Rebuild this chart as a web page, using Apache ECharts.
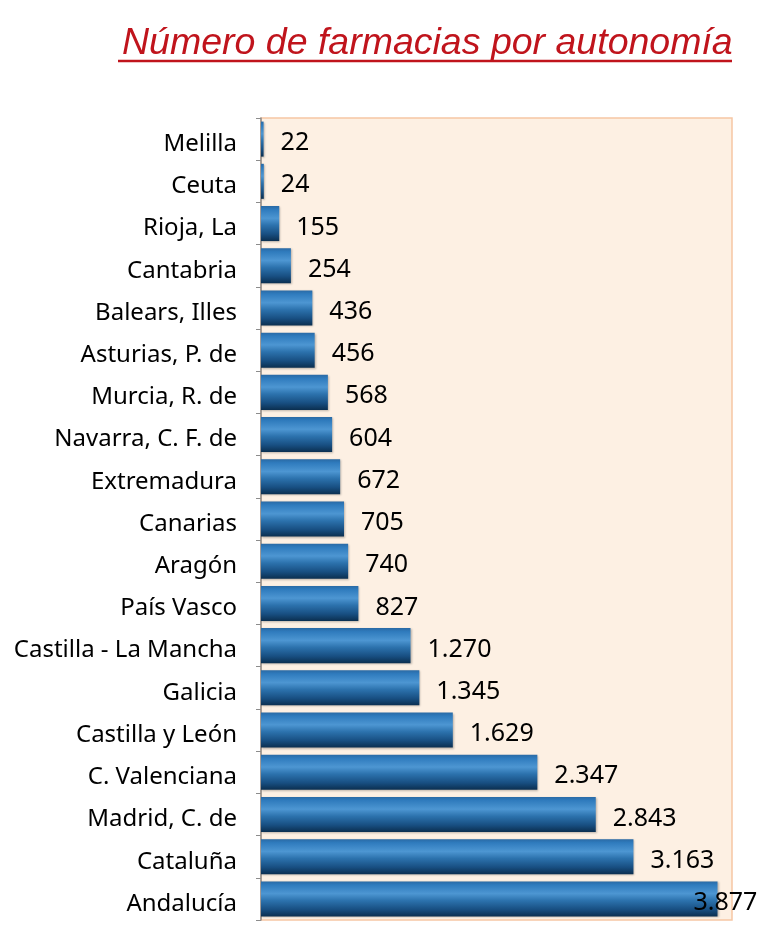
<!DOCTYPE html>
<html>
<head>
<meta charset="utf-8">
<title>Número de farmacias por autonomía</title>
<script src="https://cdn.jsdelivr.net/npm/echarts@6/dist/echarts.min.js"></script>
<style>
  html, body { margin: 0; padding: 0; background: #fff; }
  #chart { width: 780px; height: 938px; }
</style>
</head>
<body>
<div id="chart"></div>
<script>
// datos
var regiones = ['Melilla', 'Ceuta', 'Rioja, La', 'Cantabria', 'Balears, Illes',
    'Asturias, P. de', 'Murcia, R. de', 'Navarra, C. F. de', 'Extremadura', 'Canarias',
    'Aragón', 'País Vasco', 'Castilla - La Mancha', 'Galicia', 'Castilla y León',
    'C. Valenciana', 'Madrid, C. de', 'Cataluña', 'Andalucía'];
var farmacias = [22, 24, 155, 254, 436, 456, 568, 604, 672, 705,
    740, 827, 1270, 1345, 1629, 2347, 2843, 3163, 3877];

// separador de miles con punto
function fmt(v) {
    return String(v).replace(/\B(?=(\d{3})+(?!\d))/g, '.');
}

var dom = document.getElementById('chart');
var myChart = echarts.init(dom);

var barColor = new echarts.graphic.LinearGradient(0, 0, 0, 1, [
    { offset: 0, color: '#2a6aa5' },
    { offset: 0.1, color: '#2f7bbd' },
    { offset: 0.35, color: '#4d96d2' },
    { offset: 0.55, color: '#2c72ad' },
    { offset: 0.8, color: '#184f82' },
    { offset: 1, color: '#0b2f50' }
]);

var datos = farmacias.map(function(v, i) {
    var item = { value: v };
    // la última etiqueta queda encima del final de la barra
    if (i === farmacias.length - 1) {
        item.label = { offset: [-41, 4] };
    }
    return item;
});

var option = {
    animation: false,
    title: {
        text: 'Número de farmacias por autonomía',
        left: 117,
        top: 20,
        textStyle: {
            fontFamily: 'Liberation Sans',
            fontStyle: 'italic',
            fontWeight: 'normal',
            fontSize: 37.5,
            color: '#c0141c'
        }
    },
    graphic: [{
        type: 'line',
        shape: { x1: 118, y1: 61, x2: 732, y2: 61 },
        style: { stroke: '#c0141c', lineWidth: 2.5 }
    }],
    grid: {
        left: 261,
        right: 48,
        top: 118,
        bottom: 18,
        show: true,
        backgroundColor: '#fdf0e3',
        borderColor: '#f6c6a4',
        borderWidth: 1.5
    },
    xAxis: {
        type: 'value',
        min: 0,
        max: 4000,
        show: false
    },
    yAxis: {
        type: 'category',
        inverse: true,
        data: regiones,
        axisLine: {
            show: true,
            lineStyle: { color: '#8c8c8c', width: 1.5 }
        },
        axisTick: {
            show: true,
            inside: false,
            length: 5,
            lineStyle: { color: '#8c8c8c' }
        },
        axisLabel: {
            margin: 24,
            formatter: function(v) { return '{r|' + v + '}'; },
            rich: {
                r: {
                    fontFamily: 'Noto Sans',
                    fontSize: 24,
                    color: '#000',
                    padding: [10, 0, 0, 0]
                }
            }
        }
    },
    series: [{
        type: 'bar',
        data: datos,
        barCategoryGap: '17%',
        itemStyle: {
            color: barColor,
            shadowColor: 'rgba(0,0,0,0.25)',
            shadowBlur: 2,
            shadowOffsetX: 1,
            shadowOffsetY: 1
        },
        label: {
            show: true,
            position: 'right',
            distance: 17,
            offset: [0, 4],
            fontFamily: 'Noto Sans',
            fontSize: 25,
            color: '#000',
            formatter: function(p) { return fmt(p.value); }
        }
    }]
};

if (option && typeof option === "object") {
    myChart.setOption(option, true);
}

window.addEventListener("resize", function() {
    myChart.resize();
});
</script>
</body>
</html>
